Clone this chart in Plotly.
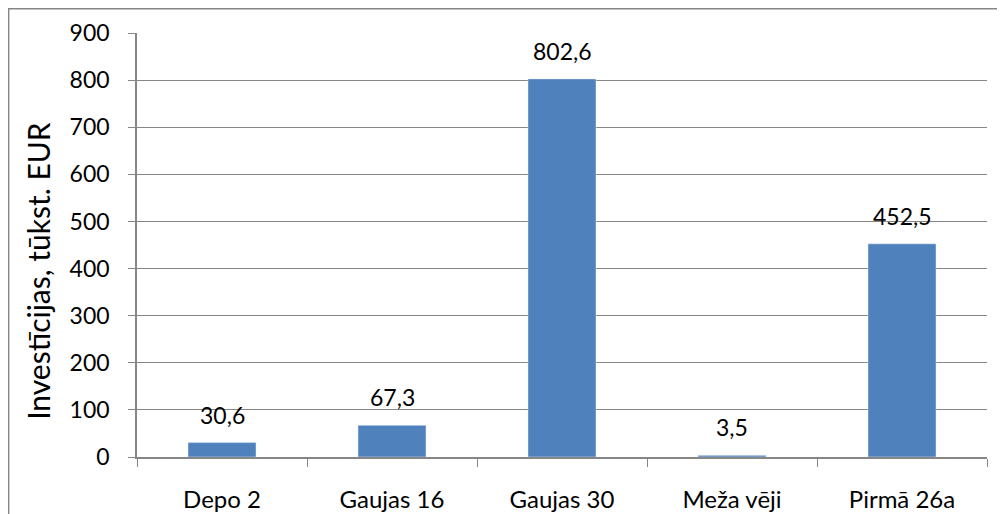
import plotly.graph_objects as go

categories = ["Depo 2", "Gaujas 16", "Gaujas 30", "Meža vēji", "Pirmā 26a"]
values = [30.6, 67.3, 802.6, 3.5, 452.5]
labels = [f"{v:.1f}".replace(".", ",") for v in values]

grey = "#868686"

fig = go.Figure(go.Bar(
    x=categories, y=values,
    marker_color="#4F81BD", width=0.4,
))

# data labels above bars
for c, v, t in zip(categories, values, labels):
    fig.add_annotation(x=c, y=v, text=t, showarrow=False, yanchor="bottom",
                       yshift=12, font=dict(size=23, color="black"))

fig.add_annotation(xref="paper", yref="paper", x=-0.116, y=0.44,
                   xanchor="center", yanchor="middle",
                   text="Investīcijas, tūkst. EUR", textangle=-90,
                   showarrow=False, font=dict(size=30, color="black"))

fig.update_layout(
    width=997, height=506,
    margin=dict(l=129, r=18, t=25, b=57, autoexpand=False),
    paper_bgcolor="white", plot_bgcolor="white",
    font=dict(family="Lato, Open Sans, sans-serif", size=23, color="black"),
    showlegend=False,
    shapes=[dict(type="rect", xref="paper", yref="paper",
                 x0=-0.151, x1=1.04, y0=-0.16, y1=1.057,
                 line=dict(color=grey, width=1.5))],
)
fig.update_yaxes(
    range=[0, 900], dtick=100, showgrid=True, gridcolor=grey, gridwidth=1,
    showline=True, linecolor=grey, linewidth=1.5,
    ticks="outside", ticklen=7, tickcolor=grey, ticklabelstandoff=14,
    zeroline=False, automargin=False,
)
fig.update_xaxes(
    showline=True, linecolor=grey, linewidth=1.5,
    ticks="outside", tickson="boundaries", ticklen=8, tickcolor=grey,
    ticklabelstandoff=20, tickfont=dict(size=24), automargin=False,
)

fig.write_html("out.html")
